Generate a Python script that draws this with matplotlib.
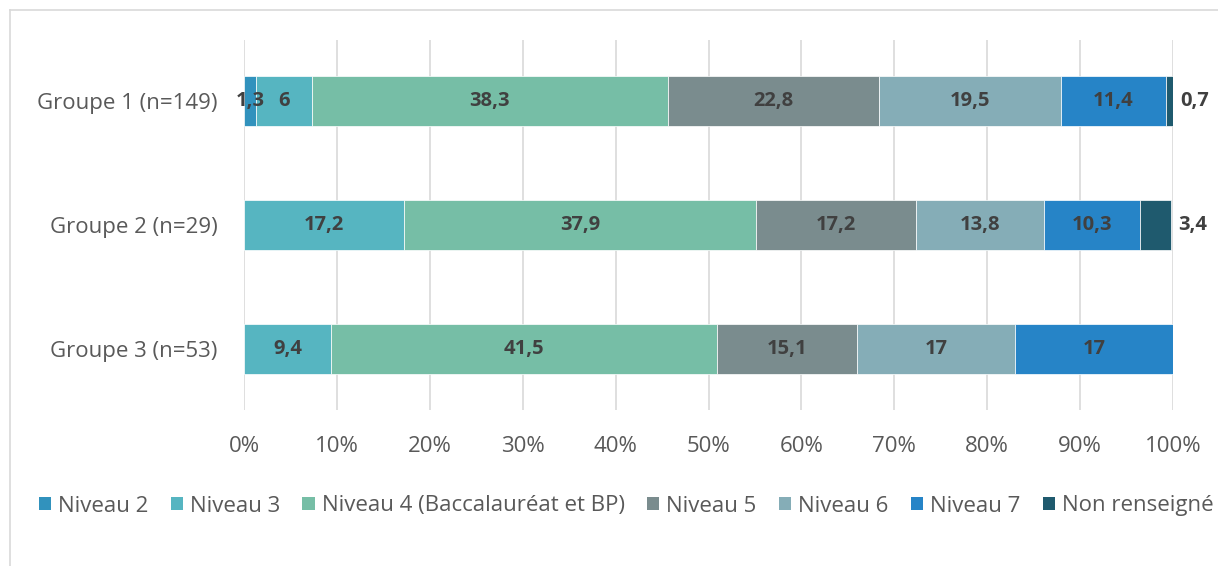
import numpy as np
import matplotlib.pyplot as plt
from matplotlib.patches import Patch
from matplotlib.lines import Line2D

groups = ["Groupe 1 (n=149)", "Groupe 2 (n=29)", "Groupe 3 (n=53)"]
levels = ["Niveau 2", "Niveau 3", "Niveau 4 (Baccalauréat et BP)", "Niveau 5",
          "Niveau 6", "Niveau 7", "Non renseigné"]
niveau2 = [1.3, 0, 0]
niveau3 = [6, 17.2, 9.4]
niveau4 = [38.3, 37.9, 41.5]
niveau5 = [22.8, 17.2, 15.1]
niveau6 = [19.5, 13.8, 17]
niveau7 = [11.4, 10.3, 17]
non_renseigne = [0.7, 3.4, 0]

colors = ["#3192BD", "#56B5C1", "#76BEA6", "#7A8C8E", "#85ADB7", "#2684C7", "#1F5A6E"]

series = [niveau2, niveau3, niveau4, niveau5, niveau6, niveau7, non_renseigne]

plt.rcParams['font.family'] = ['Open Sans', 'DejaVu Sans']

fig = plt.figure(figsize=(12.18, 5.66), dpi=100)
ax = fig.add_axes([244 / 1218, 1 - 410 / 566, (1173 - 244) / 1218, 370 / 566])

# cadre du graphique
fig.add_artist(Line2D([10 / 1218, 1.1], [1 - 10 / 566, 1 - 10 / 566], color="#D9D9D9", lw=1.2,
                      transform=fig.transFigure))
fig.add_artist(Line2D([10 / 1218, 10 / 1218], [1 - 10 / 566, -0.1], color="#D9D9D9", lw=1.2,
                      transform=fig.transFigure))

y = np.arange(len(groups))
left = np.zeros(len(groups))
for vals, col, name in zip(series, colors, levels):
    vals = np.array(vals, dtype=float)
    ax.barh(y, vals, left=left, height=0.4, color=col, label=name, zorder=3,
            edgecolor="white", linewidth=0.5)
    for i, v in enumerate(vals):
        if v <= 0:
            continue
        lab = f"{v:g}".replace(".", ",")
        if name == "Non renseigné":
            ax.annotate(lab, (left[i] + v, y[i]), xytext=(5, 0), textcoords="offset points",
                        ha="left", va="center", fontsize=14.5, fontweight="bold", color="#404040")
        else:
            ax.text(left[i] + v / 2, y[i], lab, ha="center", va="center", fontsize=14.5,
                    fontweight="bold", color="#404040", zorder=4)
    left += vals

ax.set_xlim(0, 100)
ax.set_ylim(2.49, -0.49)
ax.set_yticks(y)
ax.set_yticklabels(groups)
ax.set_xticks(np.arange(0, 101, 10))
ax.set_xticklabels([f"{t}%" for t in range(0, 101, 10)])
ax.tick_params(axis="both", length=0, labelsize=16, labelcolor="#595959")
ax.tick_params(axis="x", pad=19)
ax.tick_params(axis="y", pad=19)
ax.grid(axis="x", color="#D9D9D9", linewidth=1.2, zorder=0)
for s in ax.spines.values():
    s.set_visible(False)

handles = [Patch(facecolor=c, label=l) for c, l in zip(colors, levels)]
fig.legend(handles=handles, loc="center", bbox_to_anchor=(0.514, 1 - 506 / 566), ncol=7,
           frameon=False, fontsize=16, handlelength=0.55, handleheight=0.55,
           handletextpad=0.32, columnspacing=1.0, labelcolor="#595959")

fig.savefig("out.png", dpi=100)
